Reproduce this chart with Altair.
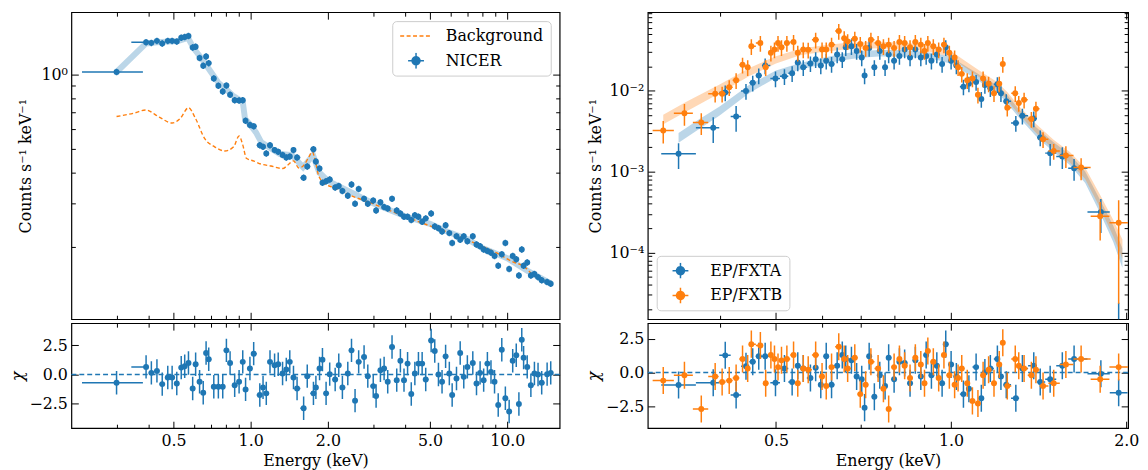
import altair as alt
import numpy as np
import pandas as pd

BLUE = "#1f77b4"
ORANGE = "#ff7f0e"
FONT = "DejaVu Serif"

# ---------------- NICER (left) ----------------
NICER_E = [0.300, 0.391, 0.410, 0.431, 0.452, 0.475, 0.494, 0.515, 0.536, 0.553,
           0.572, 0.594, 0.610, 0.632, 0.653, 0.670, 0.686, 0.718, 0.748, 0.778,
           0.804, 0.831, 0.866, 0.901, 0.931, 0.955, 0.993, 1.027, 1.085, 1.117,
           1.150, 1.189, 1.239, 1.280, 1.331, 1.376, 1.420, 1.468, 1.516, 1.608,
           1.661, 1.756, 1.795, 1.855, 1.904, 1.967, 2.032, 2.134, 2.204, 2.277,
           2.390, 2.471, 2.551, 2.635, 2.766, 2.860, 3.003, 3.081, 3.203, 3.311,
           3.420, 3.555, 3.708, 3.832, 3.958, 4.087, 4.225, 4.363, 4.506, 4.658,
           4.810, 5.050, 5.216, 5.392, 5.569, 5.750, 5.945, 6.098, 6.340, 6.554,
           6.768, 6.990, 7.339, 7.587, 7.836, 8.091, 8.366, 8.640, 8.920, 9.220,
           9.520, 9.830, 10.17, 10.50, 10.84, 11.10, 11.39, 11.58, 11.96, 12.36,
           12.76, 13.18, 13.62, 14.30, 14.77]
NICER_C = [1.02, 1.345, 1.338, 1.363, 1.330, 1.363, 1.363, 1.354, 1.404, 1.413,
           1.426, 1.282, 1.290, 1.163, 1.081, 1.178, 1.108, 0.961, 0.897, 0.851,
           0.899, 0.826, 0.784, 0.782, 0.784, 0.648, 0.623, 0.615, 0.516, 0.508,
           0.478, 0.516, 0.493, 0.485, 0.471, 0.460, 0.464, 0.493, 0.460, 0.381,
           0.423, 0.497, 0.443, 0.415, 0.364, 0.369, 0.375, 0.348, 0.353, 0.337,
           0.322, 0.358, 0.299, 0.343, 0.313, 0.299, 0.308, 0.281, 0.303, 0.290,
           0.286, 0.313, 0.281, 0.273, 0.265, 0.265, 0.257, 0.269, 0.265, 0.253,
           0.261, 0.273, 0.242, 0.238, 0.231, 0.245, 0.2275, 0.2077, 0.2208, 0.214,
           0.2208, 0.211, 0.2208, 0.2045, 0.2015, 0.1954, 0.1926, 0.1896, 0.184, 0.168,
           0.1867, 0.2077, 0.163, 0.184, 0.1784, 0.1534, 0.1954, 0.168, 0.173, 0.1534,
           0.1556, 0.151, 0.1466, 0.1443, 0.142]
NICER_CHI = [-0.70, 0.65, 0.14, 0.31, -0.82, -0.25, -0.25, -0.76, 0.59, 0.70,
             0.99, -1.19, 0.87, -0.62, -1.55, 1.84, 1.30, -1.04, -1.04, -1.04,
             2.06, 0.99, -0.91, -0.62, 1.08, -1.27, 0.51, 1.78, -1.75, -1.10,
             -1.61, 1.08, 0.79, 0.87, 0.08, 0.42, 1.08, -0.25, -1.19, -2.88,
             -0.14, -1.61, -1.10, 0.51, 1.27, -1.61, 0.03, -0.42, 0.79, -1.10,
             0.08, 2.06, -2.23, 1.08, 1.50, -0.14, -0.99, -1.84, 0.37, 0.51,
             -0.62, 2.35, -0.48, 1.18, -0.48, 0.93, -1.67, 0.08, 0.93, 0.93,
             -0.42, 2.91, 2.01, 0.00, -0.62, 1.55, 0.08, -1.75, -0.34, 1.84,
             -0.20, 0.65, 0.99, -0.76, 0.14, -0.48, 0.93, 0.22, -0.62, -2.60,
             2.12, -2.03, -3.16, 1.18, 1.64, -2.51, 2.97, 1.44, 0.65, -0.91,
             0.08, 0.00, -0.70, 0.03, 0.14]
NICER_FIRST_BIN = (0.22, 0.38)
NICER_YERR_FRAC = 0.03

BKG_E = [0.30, 0.35, 0.39, 0.44, 0.494, 0.53, 0.572, 0.61, 0.662, 0.72,
         0.791, 0.858, 0.901, 0.93, 0.962, 1.03, 1.095, 1.2, 1.331, 1.40,
         1.468, 1.54, 1.617, 1.68, 1.739, 1.79, 1.842, 1.95, 2.099, 2.5,
         2.906, 3.5, 4.02, 4.8, 5.57, 6.5, 7.7, 9.0, 10.67, 11.2,
         11.77, 12.5, 13.5, 14.3]
BKG_C = [0.674, 0.695, 0.716, 0.67, 0.634, 0.66, 0.731, 0.66, 0.548, 0.51,
         0.489, 0.508, 0.562, 0.52, 0.457, 0.445, 0.433, 0.425, 0.415, 0.43,
         0.446, 0.417, 0.43, 0.46, 0.485, 0.44, 0.387, 0.36, 0.348, 0.32,
         0.303, 0.28, 0.265, 0.247, 0.234, 0.22, 0.2045, 0.19, 0.173, 0.17,
         0.165, 0.155, 0.148, 0.1443]

NMODEL_E = [0.30, 0.39, 0.45, 0.52, 0.57, 0.60, 0.65, 0.70, 0.75, 0.80, 0.85, 0.90, 0.93,
            0.95, 1.00, 1.05, 1.10, 1.20, 1.30, 1.45, 1.60, 1.75, 1.85, 2.0, 2.5, 3.0,
            4.0, 5.0, 6.0, 7.0, 8.0, 10.0, 12.0, 14.8]
NMODEL_C = [1.02, 1.33, 1.35, 1.36, 1.40, 1.27, 1.14, 1.02, 0.92, 0.87, 0.82, 0.79, 0.78,
            0.66, 0.62, 0.58, 0.53, 0.50, 0.475, 0.47, 0.42, 0.47, 0.40, 0.37, 0.33, 0.30,
            0.266, 0.248, 0.228, 0.215, 0.198, 0.18, 0.16, 0.142]

# ---------------- EP/FXT (right) ----------------
FXTA_E = [0.340, 0.390, 0.409, 0.427, 0.444, 0.456, 0.467, 0.479, 0.499, 0.517,
          0.533, 0.545, 0.557, 0.573, 0.585, 0.597, 0.610, 0.623, 0.637, 0.650,
          0.659, 0.674, 0.688, 0.702, 0.710, 0.723, 0.738, 0.754, 0.770, 0.781,
          0.798, 0.815, 0.832, 0.850, 0.868, 0.887, 0.906, 0.925, 0.945, 0.965,
          0.979, 1.000, 1.021, 1.050, 1.073, 1.104, 1.127, 1.143, 1.168, 1.201,
          1.218, 1.244, 1.292, 1.326, 1.387, 1.423, 1.480, 1.553, 1.627, 1.809,
          1.941]
FXTA_C = [1.66e-3, 3.47e-3, 9.46e-3, 4.78e-3, 9.9e-3, 0.0125, 0.0154, 0.0204, 0.0141, 0.0150,
          0.0164, 0.0223, 0.0194, 0.0217, 0.0244, 0.0204, 0.0234, 0.0213, 0.0280, 0.0244,
          0.0344, 0.0354, 0.0308, 0.0256, 0.0154, 0.0337, 0.0194, 0.0308, 0.0194, 0.0280,
          0.0234, 0.0268, 0.0322, 0.0256, 0.0322, 0.0256, 0.0268, 0.0234, 0.0280, 0.0213,
          0.0344, 0.0234, 0.0204, 0.0112, 0.0122, 0.0128, 7.87e-3, 0.0117, 0.0107, 0.0120,
          9.28e-3, 7.38e-3, 3.98e-3, 4.88e-3, 4.53e-3, 2.63e-3, 1.69e-3, 1.54e-3, 1.10e-3, 3.16e-4,
          8.0e-6]
FXTA_CHI = [-0.93, -0.76, 1.27, -1.67, 0.46, 0.8, 1.2, 1.2, -0.75, 0.3,
            -0.7, 0.5, 0.3, -0.4, 0.35, -0.9, 1.2, -0.9, 0.5, 1.3,
            1.0, 0.9, -0.3, -0.5, -2.6, 1.2, -1.8, -0.2, -1.0, 1.1,
            -0.5, 0.8, 0.7, -0.8, 0.9, -0.3, 1.3, -0.2, 0.5, -0.8,
            2.1, 0.6, -0.3, -1.6, -1.2, 0.4, -1.9, 0.0, 0.3, 1.0,
            -0.3, -0.9, -1.9, 0.3, 0.5, -0.7, -0.5, 0.5, 1.0, -0.1,
            -1.5]
FXTA_ERR_FRAC = 0.22
FXTA_ERR_OVERRIDE = {0: 0.35, 1: 0.35, 3: 0.35, 56: 0.3, 57: 0.3, 58: 0.3, 59: 0.45, 60: 2.0}

FXTB_E = [0.320, 0.348, 0.372, 0.393, 0.404, 0.4155, 0.427, 0.438, 0.447, 0.4535,
          0.470, 0.480, 0.490, 0.497, 0.504, 0.511, 0.522, 0.536, 0.545, 0.557,
          0.568, 0.585, 0.600, 0.610, 0.623, 0.641, 0.655, 0.664, 0.683, 0.698,
          0.713, 0.728, 0.749, 0.765, 0.781, 0.798, 0.815, 0.832, 0.850, 0.868,
          0.887, 0.900, 0.912, 0.932, 0.952, 0.972, 0.993, 1.014, 1.028, 1.043,
          1.066, 1.088, 1.112, 1.135, 1.160, 1.185, 1.210, 1.227, 1.249, 1.289,
          1.307, 1.335, 1.374, 1.399, 1.439, 1.501, 1.575, 1.673, 1.804, 1.941]
FXTB_C = [3.22e-3, 5.25e-3, 4.05e-3, 9.13e-3, 9.13e-3, 0.0110, 0.01344, 0.0209, 0.0194, 0.0354,
          0.0387, 0.0194, 0.0294, 0.0322, 0.0387, 0.0344, 0.0387, 0.0398, 0.0294, 0.0322,
          0.0319, 0.0425, 0.0322, 0.0322, 0.0370, 0.0544, 0.0445, 0.0406, 0.0438, 0.0377,
          0.0337, 0.0425, 0.0387, 0.0354, 0.0370, 0.0337, 0.0398, 0.0387, 0.0344, 0.0398,
          0.0370, 0.0308, 0.0387, 0.0354, 0.0322, 0.0370, 0.0294, 0.0256, 0.0194, 0.0161,
          0.01344, 0.0141, 8.88e-3, 0.0141, 0.0122, 9.28e-3, 0.0122, 0.0213, 6.13e-3, 9.28e-3,
          7.05e-3, 7.73e-3, 4.45e-3, 5.96e-3, 2.51e-3, 1.80e-3, 1.58e-3, 1.12e-3, 2.81e-4, 2.33e-4]
FXTB_CHI = [-0.6, -0.2, -2.7, -0.3, -0.7, -0.6, -0.4, 1.0, 0.3, 2.1,
            2.0, -0.8, 1.3, 1.0, 0.4, 0.9, 1.0, 1.3, -0.8, 0.3,
            0.2, 1.3, -0.3, -1.0, 0.4, 1.9, 1.0, 0.3, 1.1, -1.6,
            -0.9, 0.8, 0.3, -1.2, -2.7, 0.4, 1.0, 0.5, -0.4, 1.1,
            0.6, -0.8, 1.6, 0.8, -0.4, 1.3, -0.2, -0.9, -0.4, 0.3,
            -0.8, -2.1, -2.3, -0.2, 0.2, -0.8, 0.6, 2.2, -1.0, 1.0,
            0.5, 0.3, -0.2, 0.2, -1.0, -0.8, 0.6, 1.0, -0.5, 0.4]
FXTB_ERR_FRAC = 0.22
FXTB_ERR_OVERRIDE = {0: 0.31, 1: 0.3, 2: 0.3, 66: 0.3, 67: 0.3, 68: 0.5, 69: 0.9}

MODEL_A_E = [0.34, 0.37, 0.40, 0.45, 0.50, 0.55, 0.60, 0.65, 0.70, 0.75, 0.80, 0.85, 0.90,
             0.95, 1.00, 1.05, 1.10, 1.15, 1.20, 1.25, 1.30, 1.40, 1.50, 1.60, 1.70, 1.80,
             1.90, 1.97]
MODEL_A_C = [2.6e-3, 3.9e-3, 5.6e-3, 0.0105, 0.016, 0.020, 0.023, 0.026, 0.028, 0.029, 0.029,
             0.0285, 0.0275, 0.026, 0.0235, 0.019, 0.0155, 0.0125, 0.0105, 7.8e-3, 5.5e-3,
             3.1e-3, 2.0e-3, 1.4e-3, 8.5e-4, 3.8e-4, 1.7e-4, 8.5e-5]
MODEL_A_W = [0.06, 0.06, 0.055, 0.05, 0.045, 0.04, 0.04, 0.04, 0.04, 0.04, 0.04, 0.04, 0.04,
             0.04, 0.04, 0.04, 0.04, 0.045, 0.045, 0.05, 0.05, 0.055, 0.06, 0.065, 0.07, 0.08,
             0.1, 0.12]
MODEL_B_E = [0.32, 0.35, 0.40, 0.45, 0.50, 0.55, 0.60, 0.65, 0.70, 0.75, 0.80, 0.85, 0.90,
             0.95, 1.00, 1.05, 1.10, 1.15, 1.20, 1.25, 1.30, 1.40, 1.50, 1.60, 1.70, 1.80,
             1.90, 1.97]
MODEL_B_C = [4.4e-3, 6.3e-3, 0.0105, 0.017, 0.024, 0.030, 0.033, 0.035, 0.036, 0.0365, 0.036,
             0.035, 0.034, 0.0315, 0.028, 0.022, 0.0175, 0.014, 0.0115, 8.5e-3, 6.0e-3,
             3.4e-3, 2.15e-3, 1.5e-3, 9.5e-4, 4.4e-4, 2.0e-4, 1.1e-4]
MODEL_B_W = [0.06, 0.06, 0.055, 0.05, 0.045, 0.04, 0.04, 0.04, 0.04, 0.04, 0.04, 0.04, 0.04,
             0.04, 0.04, 0.04, 0.04, 0.045, 0.045, 0.05, 0.05, 0.055, 0.06, 0.065, 0.07, 0.08,
             0.1, 0.12]

CROSS = "M-0.5,0H0.5M0,-0.5V0.5M0.25,0A0.25,0.25,0,1,1,-0.25,0A0.25,0.25,0,1,1,0.25,0Z"


def bin_edges(E):
    e = np.asarray(E, dtype=float)
    order = np.argsort(e)
    es = e[order]
    mids = np.sqrt(es[1:] * es[:-1])
    lo = np.empty_like(es)
    hi = np.empty_like(es)
    lo[1:] = mids
    hi[:-1] = mids
    lo[0] = es[0] ** 2 / mids[0]
    hi[-1] = es[-1] ** 2 / mids[-1]
    LO = np.empty_like(e)
    HI = np.empty_like(e)
    LO[order] = lo
    HI[order] = hi
    return LO, HI


def spectrum_df(E, C, CHI, frac, overrides=None, first_bin=None):
    lo, hi = bin_edges(E)
    if first_bin is not None:
        lo[0], hi[0] = first_bin
    C = np.asarray(C, dtype=float)
    f = np.full(len(C), frac)
    for k, v in (overrides or {}).items():
        f[k] = v
    err = C * f
    chi = np.asarray(CHI, dtype=float)
    return pd.DataFrame({
        "E": E, "C": C, "lo": lo, "hi": hi,
        "clo": np.maximum(C - err, 1e-9), "chi": C + err,
        "r": chi, "rlo": chi - 1.0, "rhi": chi + 1.0,
    })


nicer = spectrum_df(NICER_E, NICER_C, NICER_CHI, NICER_YERR_FRAC, first_bin=NICER_FIRST_BIN)
fxta = spectrum_df(FXTA_E, FXTA_C, FXTA_CHI, FXTA_ERR_FRAC, FXTA_ERR_OVERRIDE)
fxtb = spectrum_df(FXTB_E, FXTB_C, FXTB_CHI, FXTB_ERR_FRAC, FXTB_ERR_OVERRIDE)
bkg = pd.DataFrame({"E": BKG_E, "C": BKG_C})
nmodel = pd.DataFrame({"E": NMODEL_E, "C": NMODEL_C})


def band_df(E, C, W):
    C = np.asarray(C)
    W = np.asarray(W)
    return pd.DataFrame({"E": E, "lo": C / 10 ** W, "hi": C * 10 ** W})


banda = band_df(MODEL_A_E, MODEL_A_C, MODEL_A_W)
bandb = band_df(MODEL_B_E, MODEL_B_C, MODEL_B_W)

# ---------------- scales ----------------
XL = alt.Scale(type="log", domain=[0.2, 16], nice=False)
YL = alt.Scale(type="log", domain=[0.102, 1.78], nice=False)
RL = alt.Scale(domain=[-4.58, 4.38], nice=False, zero=False)
XR = alt.Scale(type="log", domain=[0.301, 2.015], nice=False)
YR = alt.Scale(type="log", domain=[1.5e-5, 0.093], nice=False)
RR = alt.Scale(domain=[-4.12, 3.65], nice=False, zero=False)

XL_MAJ = [0.5, 1, 2, 5, 10]
XL_MIN = [0.3, 0.4, 0.6, 0.7, 0.8, 0.9, 3, 4, 6, 7, 8, 9]
YL_MAJ = [1]
YL_MIN = [0.2, 0.3, 0.4, 0.5, 0.6, 0.7, 0.8, 0.9]
XR_MAJ = [0.5, 1, 2]
XR_MIN = [0.4, 0.6, 0.7, 0.8, 0.9]
YR_MAJ = [1e-4, 1e-3, 1e-2]
YR_MIN = [m * 10.0 ** p for p in (-5, -4, -3, -2) for m in range(2, 10)]
R_MAJ = [-2.5, 0, 2.5]

MAJ = 7
MINL = 4
FS = 16


def tick_axis(orient, values, size, **kw):
    base = dict(orient=orient, values=values, tickSize=size, offset=-size, domain=False,
                grid=False, minExtent=0, labelFlush=False, labelOverlap=False,
                tickColor="black", tickWidth=1)
    base.update(kw)
    if "labels" not in base:
        base["labels"] = False
    if "title" not in base:
        base["title"] = None
    return alt.Axis(**base)


def axis_layers(xs, ys, xmaj, xmin, ymaj, ymin, xlabel_kw, ylabel_kw):
    d = pd.DataFrame({"ax": [xmaj[0]], "ay": [ymaj[0]]})
    out = []
    specs = [
        (tick_axis("bottom", xmaj, MAJ, **xlabel_kw), tick_axis("left", ymaj, MAJ, **ylabel_kw)),
        (tick_axis("top", xmaj, MAJ), tick_axis("right", ymaj, MAJ)),
        (tick_axis("bottom", xmin, MINL), tick_axis("left", ymin, MINL) if ymin else None),
        (tick_axis("top", xmin, MINL), tick_axis("right", ymin, MINL) if ymin else None),
    ]
    for xa, ya in specs:
        out.append(
            alt.Chart(d).mark_point(opacity=0, size=1).encode(
                x=alt.X("ax:Q", scale=xs, axis=xa),
                y=alt.Y("ay:Q", scale=ys, axis=ya),
            )
        )
    return out


def errbars(df, xs, ys, color, ycol, ylo, yhi, size=36):
    xe = alt.Chart(df).mark_rule(color=color, strokeWidth=1.5, clip=True).encode(
        x=alt.X("lo:Q", scale=xs, axis=None), x2="hi:Q",
        y=alt.Y(f"{ycol}:Q", scale=ys, axis=None))
    ye = alt.Chart(df).mark_rule(color=color, strokeWidth=1.5, clip=True).encode(
        x=alt.X("E:Q", scale=xs, axis=None),
        y=alt.Y(f"{ylo}:Q", scale=ys, axis=None), y2=f"{yhi}:Q")
    pt = alt.Chart(df).mark_circle(color=color, size=size, opacity=1, clip=True).encode(
        x=alt.X("E:Q", scale=xs, axis=None),
        y=alt.Y(f"{ycol}:Q", scale=ys, axis=None))
    return [xe, ye, pt]


def legend_layer(labels, colors, shapes, dashes, xs, ys, xval, yval, orient):
    d = pd.DataFrame({"label": labels, "lx": [xval] * len(labels), "ly": [yval] * len(labels)})
    leg = alt.Legend(orient=orient, offset=9, title=None, labelFont=FONT, labelFontSize=FS,
                     labelColor="black", strokeColor="#cccccc", fillColor="rgba(255,255,255,0.8)",
                     padding=7, cornerRadius=4, symbolSize=1024, clipHeight=16, rowPadding=9,
                     labelOffset=13, symbolStrokeWidth=1.5, symbolOpacity=1)
    return alt.Chart(d).mark_point(filled=True, clip=True, opacity=1).encode(
        x=alt.X("lx:Q", scale=xs, axis=None),
        y=alt.Y("ly:Q", scale=ys, axis=None),
        fill=alt.Fill("label:N", scale=alt.Scale(domain=labels, range=colors), legend=leg),
        stroke=alt.Stroke("label:N", scale=alt.Scale(domain=labels, range=colors), legend=leg),
        shape=alt.Shape("label:N", scale=alt.Scale(domain=labels, range=shapes), legend=leg),
        strokeDash=alt.StrokeDash("label:N", scale=alt.Scale(domain=labels, range=dashes), legend=leg),
    )


def panel(layers, w, h):
    return alt.layer(*layers).resolve_axis(x="independent", y="independent").properties(width=w, height=h)


WL = 493
WR = 485
HT = 310
HB = 106
YTITLE = "Counts s\u207b\u00b9 keV\u207b\u00b9"

# ---- left top ----
lt_layers = [
    alt.Chart(nmodel).mark_line(color=BLUE, strokeWidth=6, opacity=0.3, clip=True).encode(
        x=alt.X("E:Q", scale=XL, axis=None), y=alt.Y("C:Q", scale=YL, axis=None)),
    alt.Chart(bkg).mark_line(color=ORANGE, strokeDash=[4, 2.5], strokeWidth=1.4, clip=True,
                             interpolate="monotone").encode(
        x=alt.X("E:Q", scale=XL, axis=None), y=alt.Y("C:Q", scale=YL, axis=None)),
]
lt_layers += errbars(nicer, XL, YL, BLUE, "C", "clo", "chi")
lt_layers.append(legend_layer(["Background", "NICER"], [ORANGE, BLUE], ["stroke", CROSS],
                              [[4, 2.5], [1, 0]], XL, YL, 100, 1, "top-right"))
lt_layers += axis_layers(XL, YL, XL_MAJ, XL_MIN, YL_MAJ, YL_MIN, {},
                         dict(labels=True, labelExpr="'10\u2070'", labelPadding=4,
                              title=YTITLE, titlePadding=8))
left_top = panel(lt_layers, WL, HT)

# ---- left bottom ----
zero = pd.DataFrame({"z": [0.0]})
lb_layers = [
    alt.Chart(zero).mark_rule(color=BLUE, strokeDash=[5, 3], strokeWidth=1.3).encode(
        y=alt.Y("z:Q", scale=RL, axis=None)),
]
lb_layers += errbars(nicer, XL, RL, BLUE, "r", "rlo", "rhi")
lb_layers += axis_layers(XL, RL, XL_MAJ, XL_MIN, R_MAJ, [],
                         dict(labels=True, format=".1f", labelPadding=4, title="Energy (keV)",
                              titlePadding=5),
                         dict(labels=True, format=".1f", labelPadding=4, title="\u03c7",
                              titlePadding=4, titleFontStyle="italic"))
left_bot = panel(lb_layers, WL, HB)

# ---- right top ----
rt_layers = [
    alt.Chart(banda).mark_area(color=BLUE, opacity=0.3, clip=True).encode(
        x=alt.X("E:Q", scale=XR, axis=None), y=alt.Y("lo:Q", scale=YR, axis=None), y2="hi:Q"),
    alt.Chart(bandb).mark_area(color=ORANGE, opacity=0.3, clip=True).encode(
        x=alt.X("E:Q", scale=XR, axis=None), y=alt.Y("lo:Q", scale=YR, axis=None), y2="hi:Q"),
]
rt_layers += errbars(fxta, XR, YR, BLUE, "C", "clo", "chi")
rt_layers += errbars(fxtb, XR, YR, ORANGE, "C", "clo", "chi")
rt_layers.append(legend_layer(["EP/FXTA", "EP/FXTB"], [BLUE, ORANGE], [CROSS, CROSS],
                              [[1, 0], [1, 0]], XR, YR, 10, 1e-3, "bottom-left"))
rt_layers += axis_layers(XR, YR, XR_MAJ, XR_MIN, YR_MAJ, YR_MIN, {},
                         dict(labels=True,
                              labelExpr="datum.value < 0.0005 ? '10\u207b\u2074' : (datum.value < 0.005 ? '10\u207b\u00b3' : '10\u207b\u00b2')",
                              labelPadding=4, title=YTITLE, titlePadding=6))
right_top = panel(rt_layers, WR, HT)

# ---- right bottom ----
rb_layers = [
    alt.Chart(zero).mark_rule(color=BLUE, strokeDash=[5, 3], strokeWidth=1.3).encode(
        y=alt.Y("z:Q", scale=RR, axis=None)),
]
rb_layers += errbars(fxta, XR, RR, BLUE, "r", "rlo", "rhi")
rb_layers += errbars(fxtb, XR, RR, ORANGE, "r", "rlo", "rhi")
rb_layers += axis_layers(XR, RR, XR_MAJ, XR_MIN, R_MAJ, [],
                         dict(labels=True, format=".1f", labelPadding=4, title="Energy (keV)",
                              titlePadding=5),
                         dict(labels=True, format=".1f", labelPadding=4, title="\u03c7",
                              titlePadding=4, titleFontStyle="italic"))
right_bot = panel(rb_layers, WR, HB)

IND = dict(fill="independent", stroke="independent", shape="independent", strokeDash="independent")
left = alt.vconcat(left_top, left_bot, spacing=0).resolve_scale(**IND)
right = alt.vconcat(right_top, right_bot, spacing=0).resolve_scale(**IND)

chart = alt.hconcat(left, right, spacing=23).resolve_scale(**IND).properties(
    padding={"left": 0, "top": 0, "right": 0, "bottom": 0}
).configure_axis(
    labelFont=FONT, titleFont=FONT, labelFontSize=FS, titleFontSize=FS,
    titleFontWeight="normal", labelColor="black", titleColor="black",
).configure_view(stroke="black", strokeWidth=1.2)

chart.save("out.html", embed_options={"renderer": "svg", "actions": False})
